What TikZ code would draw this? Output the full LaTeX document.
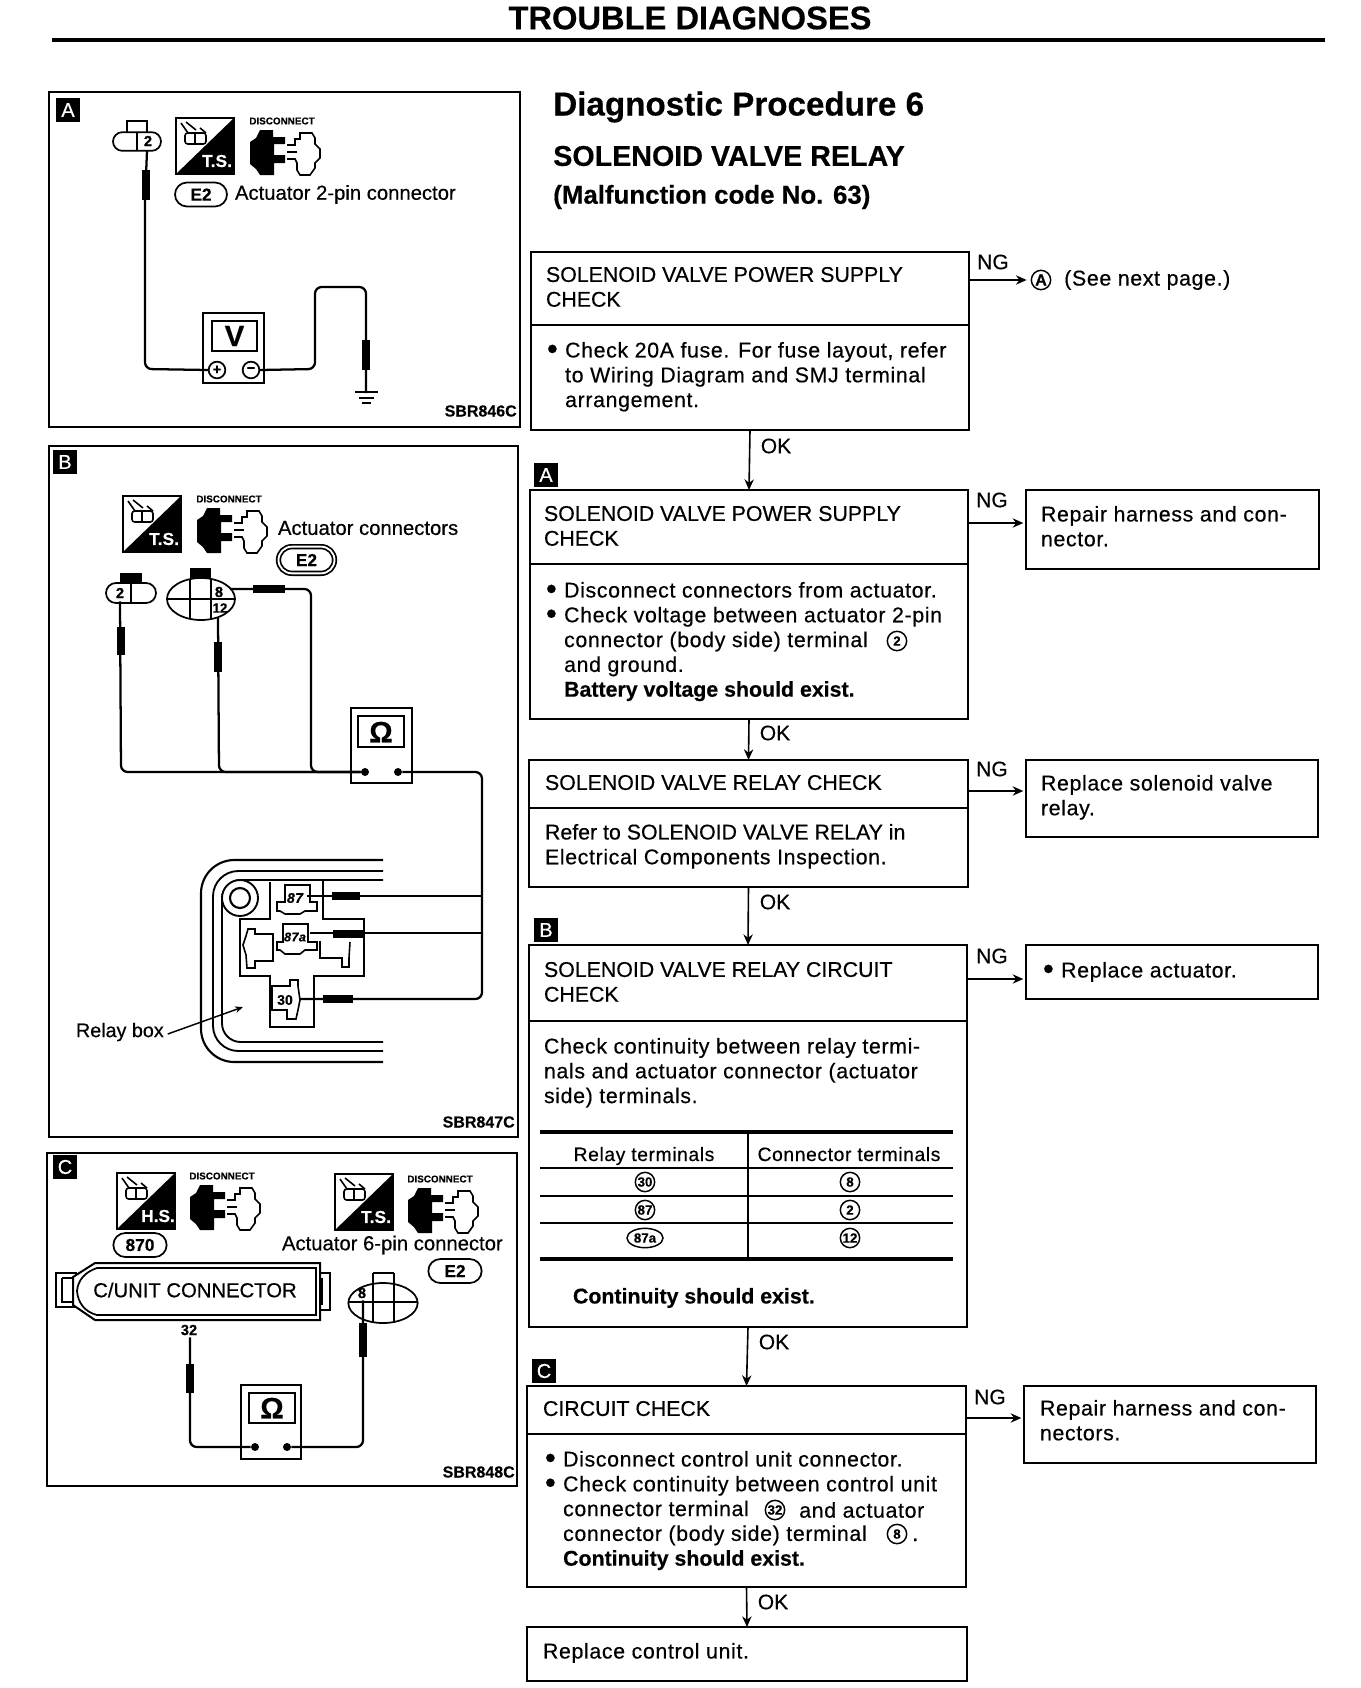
\documentclass[tikz,border=0pt]{standalone}
\usepackage{graphicx}
\usepackage{fontspec}
\setmainfont{Liberation Sans}[FakeBold=0.45,LetterSpace=3,BoldFeatures={LetterSpace=0}]
\newfontfamily\capf{Liberation Sans}[FakeBold=0.45]
\usetikzlibrary{arrows.meta,fit,shapes.misc,shapes.geometric}
\tikzset{
  frame/.style={draw,line width=1.9pt,inner sep=0pt,outer sep=0pt},
  txt/.style={anchor=north west,inner sep=0pt,outer sep=0pt,align=left,yshift=-3pt,font=\fontsize{16}{18.6}\selectfont},
  captxt/.style={txt,font=\capf\fontsize{16}{18.6}\selectfont},
  lab/.style={inner sep=0pt,outer sep=0pt,font=\capf\fontsize{15.75}{18.2}\selectfont},
  plab/.style={inner sep=0pt,outer sep=0pt,anchor=west,font=\capf\fontsize{15.2}{18}\selectfont},
  small/.style={inner sep=0pt,font=\bfseries\fontsize{12}{13}\selectfont},
  tag/.style={fill=black,text=white,minimum size=18.5pt,inner sep=0pt,font=\capf\fontsize{15}{15}\selectfont},
  arr/.style={line width=1.2pt,-{Stealth[length=8pt,width=7pt]}},
  ngarr/.style={arr,shorten >=2pt},
  cnum/.style={draw,circle,line width=1.1pt,minimum size=14.5pt,inner sep=0pt,font=\bfseries\fontsize{10}{10}\selectfont},
  cellip/.style={draw,ellipse,line width=1.1pt,minimum width=27pt,minimum height=14.5pt,inner sep=0pt,font=\bfseries\fontsize{10}{10}\selectfont},
  pill/.style={draw,rounded rectangle,line width=1.3pt,inner sep=0pt,font=\bfseries\fontsize{13}{13}\selectfont,minimum width=39pt,minimum height=18pt},
  wire/.style={line width=1.7pt,rounded corners=5pt},
  probe/.style={line width=6.5pt},
  thin part/.style={line width=1.2pt},
  rule3/.style={line width=2.4pt},
}
\newcommand\bx[6]{\node[#6,fit={(#2,#3) (#4,#5)}] (#1) {};}
\newcommand\tsicon[4]{%
  \begin{scope}[shift={(#1,#2)}]
    \draw[line width=1.2pt] (0,0) rectangle (58,56);
    \fill (0,56) -- (58,0) -- (58,56) -- cycle;
    \node[text=white,inner sep=0pt,font=\bfseries\fontsize{13}{13}\selectfont] (#4) at (41,43) {#3};
    \draw[line width=1.2pt,rounded corners=2pt] (9,15) rectangle (30,26);
    \draw[line width=1.2pt] (19,15) -- (19,26) (5,5) -- (12,15) (10,4) -- (20,12) (24,10) -- (30,15);
  \end{scope}}
\newcommand\disc[3]{%
  \begin{scope}[shift={(#1,#2)}]
    \node[inner sep=0pt,font=\bfseries\fontsize{7.4}{8}\selectfont] (#3) at (32,-9) {DISCONNECT};
    \fill (10,0) -- (23,0) -- (23,7) -- (35,7) -- (35,14) -- (24,14) -- (24,25) -- (35,25) -- (35,33) -- (24,33) -- (24,45) -- (10,45) -- (6,39) -- (0,34) -- (0,12) -- (6,8) -- cycle;
    \draw[line width=1.2pt,fill=white] (37,15) -- (45,15) -- (45,9) -- (50,9) -- (50,3) -- (62,3) -- (65,8) -- (65,14) -- (70,19) -- (70,28) -- (65,33) -- (65,38) -- (60,45) -- (50,45) -- (47,40) -- (47,33) -- (45,29) -- (37,29);
    \draw[line width=1.2pt] (37,22) -- (47,22);
  \end{scope}}
\begin{document}
\begin{tikzpicture}[x=0.75pt,y=-0.75pt]
\useasboundingbox (0,0) rectangle (1360,1688);
% ---------- title ----------
\node[inner sep=0pt,font=\bfseries\fontsize{24.5}{26}\selectfont] (title) at (690,18) {TROUBLE DIAGNOSES};
\coordinate (ruleL) at (52,40); \coordinate (ruleR) at (1325,40);
\draw[line width=3.2pt] (ruleL) -- (ruleR);
% ---------- panels ----------
\bx{pA}{49}{92}{520}{427}{frame}
\bx{pB}{49}{446}{518}{1137}{frame}
\bx{pC}{47}{1153}{517}{1486}{frame}
\node[tag] (tA) at (68,110) {A};
\node[tag] (tB) at (65,462) {B};
\node[tag] (tC) at (65,1167) {C};
% ---------- panel A ----------
\draw[thin part] (127,132) -- (127,121) -- (147,121) -- (147,132);
\node[draw,rounded rectangle,line width=1.3pt,minimum width=36pt,minimum height=14pt,inner sep=0pt] (cA) at (137,141.5) {};
\draw[thin part] (137,132) -- (137,151);
\node[inner sep=0pt,font=\bfseries\fontsize{11}{11}\selectfont] (cAn) at (148,141) {2};
\tsicon{176}{118}{T.S.}{tsA}
\disc{250}{130}{dA}
\node[pill] (eA) at (201,194.5) {E2};
\node[plab] (tAct) at (235,194.5) {Actuator 2-pin connector};
\bx{mA}{203}{313}{264}{383}{draw,line width=1.3pt,inner sep=0pt,outer sep=0pt}
\bx{dspA}{212}{321}{257}{351}{draw,line width=1.5pt,inner sep=0pt,outer sep=0pt}
\node[inner sep=0pt,font=\bfseries\fontsize{22}{22}\selectfont] (vA) at (234.5,336) {V};
\node[draw,circle,line width=1.3pt,minimum size=12.5pt,inner sep=0pt,font=\bfseries\fontsize{11}{11}\selectfont] (plusA) at (217,370) {+};
\node[draw,circle,line width=1.3pt,minimum size=12.5pt,inner sep=0pt,font=\bfseries\fontsize{11}{11}\selectfont] (minA) at (251,370) {\textminus};
\coordinate (gndA) at (366,393);
\draw[wire] (147,151) -- (145,200) -- (145,369) -- (plusA.west);
\draw[probe] (146,170) -- (146,200);
\draw[wire] (minA.east) -- (315,369) -- (315,287) -- (366,287) -- (gndA);
\draw[probe] (366,340) -- (366,370);
\draw[line width=1.5pt] (355,392) -- (378,392) (359,398) -- (374,398);
\draw[line width=2.2pt] (362,403) -- (371,403);
\node[small,anchor=east] (sA) at (517,411) {SBR846C};
% ---------- panel B ----------
\tsicon{123}{496}{T.S.}{tsB}
\disc{197}{508}{dB}
\node[plab] (tBct) at (278,528) {Actuator connectors};
\node[pill,double,double distance=1.4pt,minimum width=42pt,minimum height=20pt] (eB) at (306.5,560) {E2};
\fill (120,573) rectangle (142,583);
\node[draw,rounded rectangle,line width=1.3pt,minimum width=37.5pt,minimum height=15pt,inner sep=0pt] (c2B) at (131,593) {};
\draw[thin part] (131,583) -- (131,603);
\node[inner sep=0pt,font=\bfseries\fontsize{11}{11}\selectfont] (c2Bn) at (120,593) {2};
\fill (190,568) rectangle (211,579);
\node[draw,ellipse,line width=1.3pt,minimum width=51pt,minimum height=31.5pt,inner sep=0pt] (c6B) at (201,599) {};
\draw[thin part] (190,579) -- (190,619) (211,579) -- (211,619) (167,599) -- (235,599);
\node[inner sep=0pt,font=\bfseries\fontsize{11}{11}\selectfont] (c6B8) at (219,592) {8};
\node[inner sep=0pt,font=\bfseries\fontsize{10}{10}\selectfont] (c6B12) at (220,608) {12};
\bx{mB}{351}{708}{412}{783}{draw,line width=1.3pt,inner sep=0pt,outer sep=0pt}
\bx{dspB}{358}{716}{404}{747}{draw,line width=1.5pt,inner sep=0pt,outer sep=0pt}
\node[inner sep=0pt,font=\bfseries\fontsize{22}{22}\selectfont] (oB) at (381,732) {Ω};
\node[circle,fill,minimum size=6pt,inner sep=0pt] (d1B) at (365,772) {};
\node[circle,fill,minimum size=6pt,inner sep=0pt] (d2B) at (398,772) {};
\draw[wire] (c2Bn.south) ++(0,3) -- (121,772) -- (d1B);
\draw[wire] (218,618) -- (219,772) -- (d1B);
\draw[wire] (230,589) -- (311,589) -- (311,772) -- (d1B);
\draw[probe] (121,627) -- (121,655);
\draw[probe] (218,642) -- (218,672);
\draw[probe] (253,589) -- (285,589);
% relay box
\draw[line width=1.6pt,rounded corners=25pt] (383,860) -- (201,860) -- (201,1062) -- (383,1062);
\draw[line width=1.4pt,rounded corners=19pt] (383,871) -- (213,871) -- (213,1051) -- (383,1051);
\draw[line width=1.4pt,rounded corners=14pt] (383,880) -- (222,880) -- (222,1042) -- (383,1042);
\draw[line width=1.4pt,fill=white] (240,898) circle[radius=18];
\draw[line width=1.6pt] (240,898) circle[radius=10];
\draw[thin part] (270,882) -- (270,919) -- (240,919) -- (240,976) -- (270,976) -- (270,1027) -- (314,1027) -- (314,976) -- (364,976) -- (364,919) -- (323,919) -- (323,880);
% terminals
\draw[thin part,fill=white] (285,885) -- (310,885) -- (310,902) -- (317,902) -- (317,911) -- (305,911) -- (300,914) -- (285,914) -- (280,911) -- (277,911) -- (277,902) -- (285,902) -- cycle;
\node[inner sep=0pt,font=\bfseries\itshape\fontsize{10.5}{11}\selectfont] (t87) at (295,898) {87};
\draw[thin part,fill=white] (283,924) -- (308,924) -- (308,942) -- (317,942) -- (317,950) -- (305,950) -- (300,954) -- (285,954) -- (280,950) -- (277,950) -- (277,942) -- (283,942) -- cycle;
\node[inner sep=0pt,font=\bfseries\itshape\fontsize{9.5}{10}\selectfont] (t87a) at (295,937) {87a};
\draw[thin part,fill=white] (272,986) -- (290,986) -- (290,980) -- (298,980) -- (298,986) -- (300,1000) -- (298,1010) -- (296,1019) -- (287,1019) -- (287,1010) -- (272,1010) -- cycle;
\node[inner sep=0pt,font=\bfseries\fontsize{10.5}{11}\selectfont] (t30) at (285,1000) {30};
\draw[thin part] (246,936) -- (248,929) -- (255,929) -- (255,934) -- (273,934) -- (273,961) -- (255,961) -- (255,968) -- (247,968) -- (246,955) -- (243,945) -- cycle;
\draw[thin part] (320,941) -- (320,958) -- (342,958) -- (342,967) -- (349,967) -- (349,958) -- (350,942);
\coordinate (tapB) at (482,772);
\draw[wire] (d2B) -- (tapB) -- (482,999) -- (300,999);
\draw[line width=1.7pt] (t87.east) ++(4,-2) -- (482,896);
\draw[line width=1.7pt] (t87a.east) ++(4,-4) -- (482,933);
\draw[probe] (332,896) -- (360,896);
\draw[probe] (333,934) -- (363,934);
\draw[probe] (323,999) -- (353,999);
\node[plab,font=\capf\fontsize{14.8}{17}\selectfont] (rb) at (76,1032) {Relay box};
\coordinate (rbT) at (243,1007);
\draw[line width=1.1pt,-{Stealth[length=6pt,width=5pt]}] (rb.east) ++(4,2) -- (rbT);
\node[small,anchor=east] (sB) at (515,1122) {SBR847C};
% ---------- panel C ----------
\tsicon{117}{1173}{H.S.}{hsC}
\disc{190}{1185}{dC}
\tsicon{335}{1174}{T.S.}{tsC}
\disc{408}{1188}{dCb}
\node[pill,minimum width=40pt] (e870) at (140,1245) {870};
\node[plab] (tCct) at (282,1245) {Actuator 6-pin connector};
\node[pill,minimum width=40pt] (eC) at (455,1271) {E2};
\draw[thin part,fill=white] (56,1273) rectangle (76,1307);
\draw[thin part] (62,1278) -- (73,1278) (62,1278) -- (62,1302) -- (73,1302);
\draw[thin part,fill=white] (310,1273) rectangle (330,1310);
\draw[thin part] (322,1278) -- (322,1305);
\draw[line width=1.5pt,fill=white] (320,1263) -- (95,1263) -- (73,1277) -- (73,1305) -- (95,1320) -- (320,1320) -- cycle;
\draw[line width=1.3pt] (316,1268) -- (97,1268) .. controls (85,1272) and (78,1280) .. (77,1291) .. controls (78,1303) and (85,1312) .. (97,1315) -- (316,1315) -- cycle;
\node[inner sep=0pt,font=\capf\fontsize{15.2}{18}\selectfont] (cun) at (195,1290) {C/UNIT CONNECTOR};
\node[inner sep=0pt,font=\bfseries\fontsize{11}{11}\selectfont] (n32) at (189,1330) {32};
\node[draw,ellipse,line width=1.3pt,minimum width=52pt,minimum height=30pt,inner sep=0pt] (c6C) at (383,1303) {};
\draw[thin part] (373,1273) -- (394,1273) (373,1273) -- (373,1323) (394,1273) -- (394,1323) (349,1302) -- (418,1302);
\node[inner sep=0pt,font=\bfseries\fontsize{11}{11}\selectfont] (c6C8) at (362,1293) {8};
\bx{mC}{241}{1385}{301}{1459}{draw,line width=1.3pt,inner sep=0pt,outer sep=0pt}
\bx{dspC}{249}{1393}{295}{1423}{draw,line width=1.5pt,inner sep=0pt,outer sep=0pt}
\node[inner sep=0pt,font=\bfseries\fontsize{22}{22}\selectfont] (oC) at (272,1408) {Ω};
\node[circle,fill,minimum size=6pt,inner sep=0pt] (d1C) at (255,1447) {};
\node[circle,fill,minimum size=6pt,inner sep=0pt] (d2C) at (287,1447) {};
\draw[wire] (n32.south) ++(1,2) -- (190,1447) -- (d1C);
\draw[wire] (c6C8.south) ++(1,2) -- (363,1447) -- (d2C);
\draw[probe] (190,1364) -- (190,1393);
\draw[probe] (363,1323) -- (363,1357);
\node[small,anchor=east] (sC) at (515,1472) {SBR848C};
% ---------- right: headings ----------
\node[inner sep=0pt,anchor=west,font=\bfseries\fontsize{24.9}{27}\selectfont] (hd1) at (553,107) {Diagnostic Procedure 6};
\node[inner sep=0pt,anchor=west,font=\bfseries\fontsize{21.5}{24}\selectfont] (hd2) at (553,156) {SOLENOID VALVE RELAY};
\node[inner sep=0pt,anchor=west,font=\bfseries\fontsize{19.4}{22}\selectfont] (hd3) at (553,197) {(Malfunction code No. 63)};
% ---------- flow boxes ----------
\bx{h1}{531}{252}{969}{325}{frame}
\bx{b1}{531}{325}{969}{430}{frame}
\bx{h2}{530}{490}{968}{564}{frame}
\bx{b2}{530}{564}{968}{719}{frame}
\bx{h3}{529}{760}{968}{808}{frame}
\bx{b3}{529}{808}{968}{887}{frame}
\bx{h4}{529}{945}{967}{1021}{frame}
\bx{b4}{529}{1021}{967}{1327}{frame}
\bx{h5}{527}{1386}{966}{1434}{frame}
\bx{b5}{527}{1434}{966}{1587}{frame}
\bx{b6}{527}{1627}{967}{1681}{frame}
\bx{r2}{1026}{490}{1319}{569}{frame}
\bx{r3}{1026}{760}{1318}{837}{frame}
\bx{r4}{1026}{945}{1318}{999}{frame}
\bx{r5}{1024}{1386}{1316}{1463}{frame}
\node[tag] (fA) at (546,475) {A};
\node[tag] (fB) at (546,930) {B};
\node[tag] (fC) at (544,1371) {C};
% connectors OK
\draw[arr] (b1.south) -- (h2.north);
\draw[arr] (b2.south) -- (h3.north);
\draw[arr] (b3.south) -- (h4.north);
\draw[arr] (b4.south) -- (h5.north);
\draw[arr] (b5.south) -- (b6.north);
\node[lab] (ok1) at (776,446) {OK};
\node[lab] (ok2) at (775,733) {OK};
\node[lab] (ok3) at (775,902) {OK};
\node[lab] (ok4) at (774,1342) {OK};
\node[lab] (ok5) at (773,1602) {OK};
% NG
\node[cnum,font=\bfseries\fontsize{12}{12}\selectfont] (cAA) at (1041,280) {A};
\node[inner sep=0pt,anchor=west,font=\fontsize{16}{18}\selectfont] (see) at (1064,280) {(See next page.)};
\coordinate (n2) at (1000,523); \coordinate (n3) at (1000,791); \coordinate (n4) at (1000,979); \coordinate (n5) at (1000,1418);
\draw[ngarr,shorten >=3pt] (h1.east |- cAA) -- (cAA.west);
\draw[ngarr] (h2.east |- n2) -- (r2.west |- n2);
\draw[ngarr] (h3.east |- n3) -- (r3.west |- n3);
\draw[ngarr] (h4.east |- n4) -- (r4.west |- n4);
\draw[ngarr,line width=1.7pt] (h5.east |- n5) -- (r5.west |- n5);
\node[lab] (ng1) at (993,262) {NG};
\node[lab] (ng2) at (992,500) {NG};
\node[lab] (ng3) at (992,769) {NG};
\node[lab] (ng4) at (992,956) {NG};
\node[lab] (ng5) at (990,1397) {NG};
% box text
\newcommand\blt{\makebox[13.6pt][l]{\smash{\raisebox{-0.08em}{\scalebox{1.45}{•}}}}}
\newcommand\ind{\hspace*{13.6pt}}
\node[captxt] (x1h) at (546,263) {SOLENOID VALVE POWER SUPPLY\\CHECK};
\node[txt] (x1b) at (547,338) {\blt Check 20A fuse. For fuse layout, refer\\\ind to Wiring Diagram and SMJ terminal\\\ind arrangement.};
\node[captxt] (x2h) at (544,502) {SOLENOID VALVE POWER SUPPLY\\CHECK};
\node[txt] (x2b) at (546,578) {\blt Disconnect connectors from actuator.\\\blt Check voltage between actuator 2-pin\\\ind connector (body side) terminal\\\ind and ground.\\\ind\textbf{Battery voltage should exist.}};
\node[cnum] (n2c) at (897,641) {2};
\node[captxt] (x3h) at (545,771) {SOLENOID VALVE RELAY CHECK};
\node[txt] (x3b) at (545,820) {{\capf Refer to SOLENOID VALVE RELAY in}\\Electrical Components Inspection.};
\node[captxt] (x4h) at (544,958) {SOLENOID VALVE RELAY CIRCUIT\\CHECK};
\node[txt] (x4b) at (544,1034) {Check continuity between relay termi-\\nals and actuator connector (actuator\\side) terminals.};
\node[txt] (x4c) at (573,1284) {\textbf{Continuity should exist.}};
\node[captxt] (x5h) at (543,1397) {CIRCUIT CHECK};
\node[txt] (x5b) at (545,1447) {\blt Disconnect control unit connector.\\\blt Check continuity between control unit\\\ind connector terminal\\\ind connector (body side) terminal\\\ind\textbf{Continuity should exist.}};
\node[cnum] (n32c) at (775,1510) {32};
\node[inner sep=0pt,anchor=west,font=\fontsize{16}{18}\selectfont] (andact) at (799,1510) {and actuator};
\node[cnum] (n8c) at (897,1534) {8};
\node[inner sep=0pt,anchor=base west,font=\fontsize{16}{18}\selectfont] (dot8) at (912,1541) {.};
\node[txt] (x6) at (543,1639) {Replace control unit.};
\node[txt] (xr2) at (1041,502) {Repair harness and con-\\nector.};
\node[txt] (xr3) at (1041,771) {Replace solenoid valve\\relay.};
\node[txt] (xr4) at (1043,958) {\blt Replace actuator.};
\node[txt] (xr5) at (1040,1396) {Repair harness and con-\\nectors.};
% table
\coordinate (tL) at (540,0); \coordinate (tR) at (953,0); \coordinate (tV) at (748,0);
\draw[rule3] (tL |- 0,1132) -- (tR |- 0,1132);
\draw[line width=1.9pt] (tL |- 0,1168) -- (tR |- 0,1168);
\draw[line width=1.4pt] (tL |- 0,1196) -- (tR |- 0,1196);
\draw[line width=1.4pt] (tL |- 0,1223) -- (tR |- 0,1223);
\draw[line width=3pt] (tL |- 0,1259) -- (tR |- 0,1259);
\draw[line width=1.6pt] (tV |- 0,1132) -- (tV |- 0,1259);
\node[inner sep=0pt,anchor=base,font=\fontsize{14.5}{16}\selectfont] (th1) at (644,1161) {Relay terminals};
\node[inner sep=0pt,anchor=base,font=\fontsize{14.5}{16}\selectfont] (th2) at (849,1161) {Connector terminals};
\node[cnum] (c30) at (645,1182) {30};
\node[cnum] (c87) at (645,1210) {87};
\node[cellip] (c87a) at (645,1238) {87a};
\node[cnum] (c8) at (850,1182) {8};
\node[cnum] (c2) at (850,1210) {2};
\node[cnum] (c12) at (850,1238) {12};
\end{tikzpicture}
\end{document}
